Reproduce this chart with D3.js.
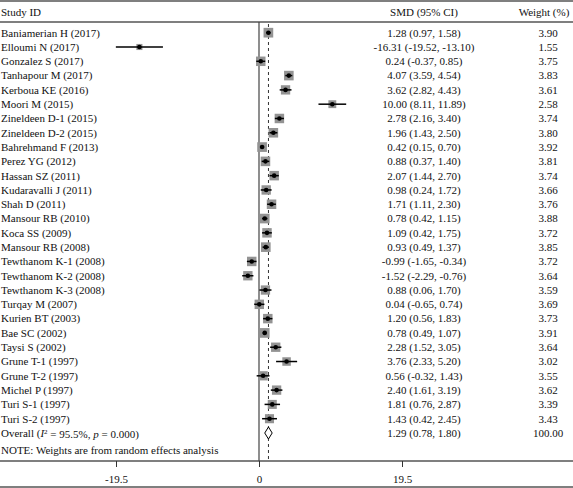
<!DOCTYPE html>
<html>
<head>
<meta charset="utf-8">
<script src="https://cdn.jsdelivr.net/npm/d3@7"></script>
<style>
  body { margin: 0; background: #fff; }
  svg text { font-family: "Liberation Serif", "DejaVu Serif", serif; font-size: 11px; fill: #111; }
</style>
</head>
<body>
<svg id="chart"></svg>
<script>
const studies = ['Baniamerian H (2017)', 'Elloumi N (2017)', 'Gonzalez S (2017)', 'Tanhapour M (2017)',
  'Kerboua KE (2016)', 'Moori M (2015)', 'Zineldeen D-1 (2015)', 'Zineldeen D-2 (2015)',
  'Bahrehmand F (2013)', 'Perez YG (2012)', 'Hassan SZ (2011)', 'Kudaravalli J (2011)',
  'Shah D (2011)', 'Mansour RB (2010)', 'Koca SS (2009)', 'Mansour RB (2008)',
  'Tewthanom K-1 (2008)', 'Tewthanom K-2 (2008)', 'Tewthanom K-3 (2008)', 'Turqay M (2007)',
  'Kurien BT (2003)', 'Bae SC (2002)', 'Taysi S (2002)', 'Grune T-1 (1997)',
  'Grune T-2 (1997)', 'Michel P (1997)', 'Turi S-1 (1997)', 'Turi S-2 (1997)'];
const smd = [1.28, -16.31, 0.24, 4.07, 3.62, 10.00, 2.78, 1.96, 0.42, 0.88, 2.07, 0.98, 1.71, 0.78,
  1.09, 0.93, -0.99, -1.52, 0.88, 0.04, 1.20, 0.78, 2.28, 3.76, 0.56, 2.40, 1.81, 1.43];
const lower = [0.97, -19.52, -0.37, 3.59, 2.82, 8.11, 2.16, 1.43, 0.15, 0.37, 1.44, 0.24, 1.11, 0.42,
  0.42, 0.49, -1.65, -2.29, 0.06, -0.65, 0.56, 0.49, 1.52, 2.33, -0.32, 1.61, 0.76, 0.42];
const upper = [1.58, -13.10, 0.85, 4.54, 4.43, 11.89, 3.40, 2.50, 0.70, 1.40, 2.70, 1.72, 2.30, 1.15,
  1.75, 1.37, -0.34, -0.76, 1.70, 0.74, 1.83, 1.07, 3.05, 5.20, 1.43, 3.19, 2.87, 2.45];
const weights = [3.90, 1.55, 3.75, 3.83, 3.61, 2.58, 3.74, 3.80, 3.92, 3.81, 3.74, 3.66, 3.76, 3.88,
  3.72, 3.85, 3.72, 3.64, 3.59, 3.69, 3.73, 3.91, 3.64, 3.02, 3.55, 3.62, 3.39, 3.43];
const overall = { smd: 1.29, lower: 0.78, upper: 1.80, weight: 100.00 };
const tickValues = [-19.5, 0, 19.5];

const W = 573, H = 488;
const svg = d3.select('#chart').attr('width', W).attr('height', H);

const x = d3.scaleLinear().domain([-19.5, 19.5]).range([116, 402]);
const y = d3.scaleLinear().domain([0, studies.length]).range([32.7, 433]);
const side = d3.scaleSqrt().domain([0, 4]).range([0, 9.8]);

// plain hyphen for negatives, like the original
const f2 = v => v.toFixed(2);
const ciText = (m, l, u) => `${f2(m)} (${f2(l)}, ${f2(u)})`;

// horizontal rules
const rules = [1, 22, 461, 487];
svg.selectAll('line.rule').data(rules).join('line')
  .attr('class', 'rule')
  .attr('x1', 0).attr('x2', W)
  .attr('y1', d => d).attr('y2', d => d)
  .attr('stroke', '#555').attr('stroke-width', 1.3);

// headers
svg.append('text').attr('x', 1).attr('y', 12).attr('dy', '0.35em').text('Study ID');
svg.append('text').attr('x', 424).attr('y', 12).attr('dy', '0.35em').attr('text-anchor', 'middle').text('SMD (95% CI)');
svg.append('text').attr('x', 544).attr('y', 12).attr('dy', '0.35em').attr('text-anchor', 'middle').text('Weight (%)');

// null line and overall dashed line
svg.append('line')
  .attr('x1', x(0)).attr('x2', x(0)).attr('y1', 22).attr('y2', 461)
  .attr('stroke', '#444').attr('stroke-width', 1.2);
svg.append('line')
  .attr('x1', x(overall.smd)).attr('x2', x(overall.smd)).attr('y1', 24).attr('y2', 461)
  .attr('stroke', '#333').attr('stroke-width', 1).attr('stroke-dasharray', '3,3');

// study rows
const rows = svg.append('g').selectAll('g').data(studies).join('g')
  .attr('transform', (d, i) => `translate(0,${y(i)})`);

rows.append('text').attr('x', 1).attr('dy', '0.35em').text(d => d);
rows.append('text').attr('x', 424).attr('dy', '0.35em').attr('text-anchor', 'middle')
  .text((d, i) => ciText(smd[i], lower[i], upper[i]));
rows.append('text').attr('x', 548).attr('dy', '0.35em').attr('text-anchor', 'middle')
  .text((d, i) => f2(weights[i]));

rows.append('rect')
  .attr('x', (d, i) => x(smd[i]) - side(weights[i]) / 2)
  .attr('y', (d, i) => -side(weights[i]) / 2)
  .attr('width', (d, i) => side(weights[i]))
  .attr('height', (d, i) => side(weights[i]))
  .attr('fill', '#939393');
rows.append('line')
  .attr('x1', (d, i) => x(lower[i])).attr('x2', (d, i) => x(upper[i]))
  .attr('stroke', '#000').attr('stroke-width', 1.5);
rows.append('circle')
  .attr('cx', (d, i) => x(smd[i])).attr('r', 2.3).attr('fill', '#000');

// overall row
const yo = y(studies.length);
const ov = svg.append('text').attr('x', 1).attr('y', yo).attr('dy', '0.35em');
ov.append('tspan').text('Overall (');
ov.append('tspan').attr('font-style', 'italic').text('I');
ov.append('tspan').attr('dy', '-0.35em').attr('font-size', '7px').text('2');
ov.append('tspan').attr('dy', '0.35em').text(' = 95.5%, ');
ov.append('tspan').attr('font-style', 'italic').text('p');
ov.append('tspan').text(' = 0.000)');
svg.append('text').attr('x', 424).attr('y', yo).attr('dy', '0.35em').attr('text-anchor', 'middle')
  .text(ciText(overall.smd, overall.lower, overall.upper));
svg.append('text').attr('x', 548).attr('y', yo).attr('dy', '0.35em').attr('text-anchor', 'middle')
  .text(f2(overall.weight));
svg.append('path')
  .attr('d', `M${x(overall.lower)},${yo} L${x(overall.smd)},${yo - 6} L${x(overall.upper)},${yo} L${x(overall.smd)},${yo + 6} Z`)
  .attr('fill', '#fff').attr('stroke', '#000').attr('stroke-width', 1);

svg.append('text').attr('x', 1).attr('y', 450).attr('dy', '0.35em')
  .text('NOTE: Weights are from random effects analysis');

// x axis
const axis = svg.append('g').attr('transform', 'translate(0,461)')
  .call(d3.axisBottom(x).tickValues(tickValues).tickSize(6).tickPadding(8).tickFormat(d => String(d)));
axis.select('.domain').remove();
axis.selectAll('line').attr('stroke', '#333');
axis.selectAll('text').attr('font-family', '"Liberation Serif", serif').attr('font-size', 11).attr('fill', '#111');
</script>
</body>
</html>
